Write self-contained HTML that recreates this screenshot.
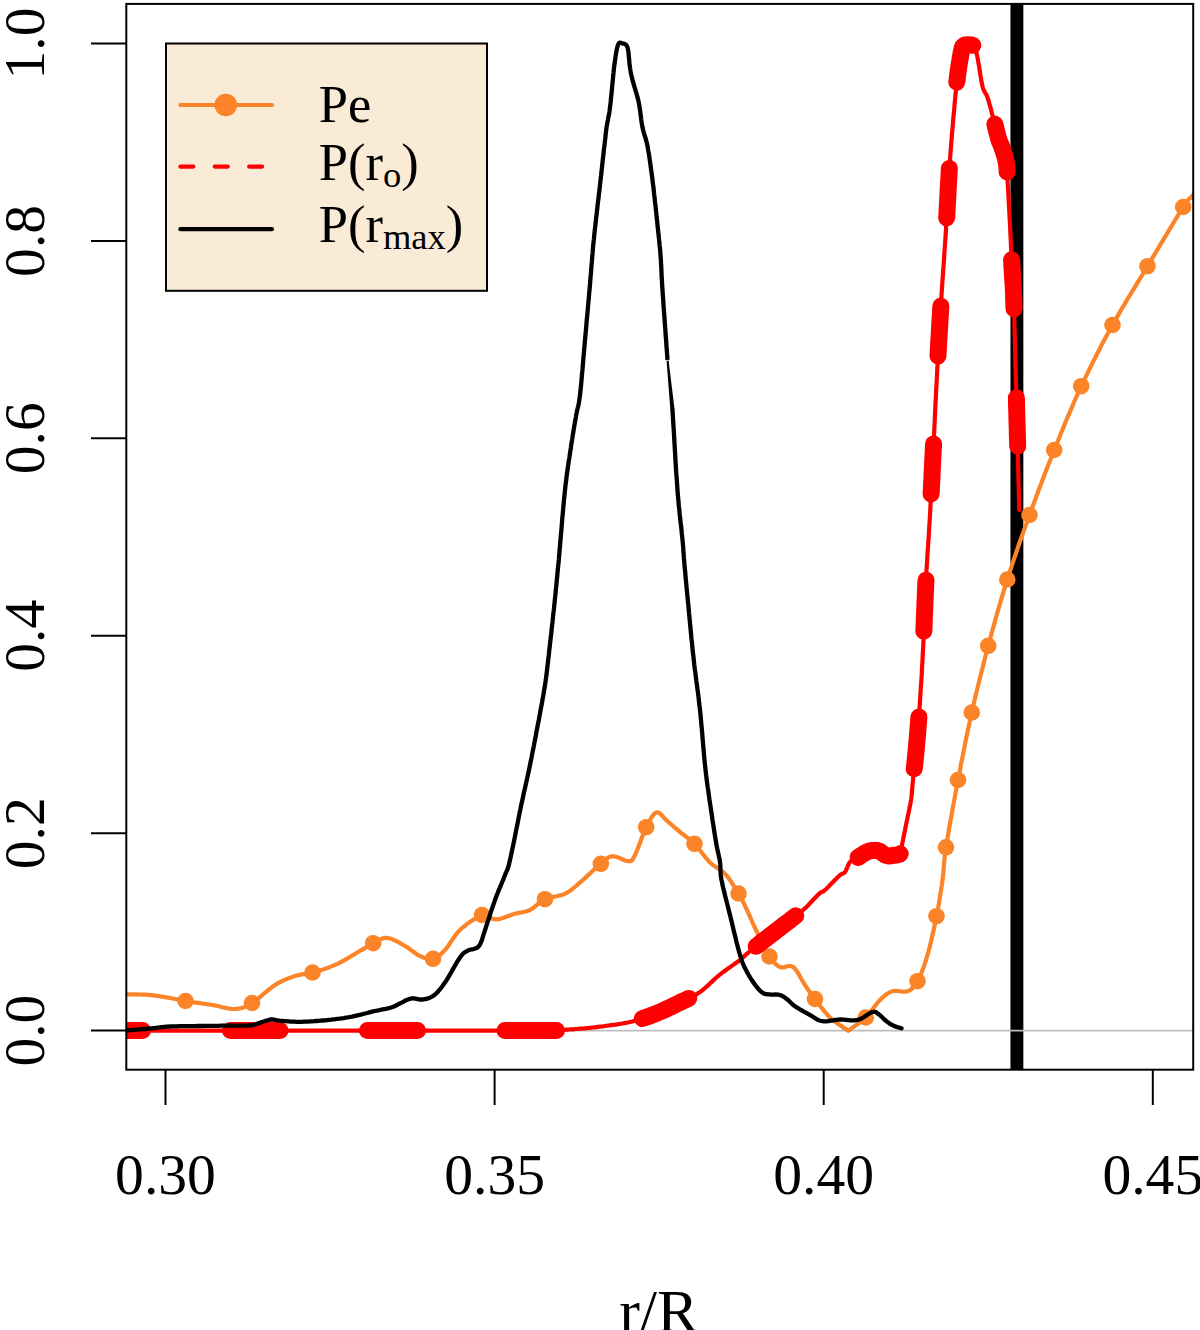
<!DOCTYPE html>
<html>
<head>
<meta charset="utf-8">
<title>P vs r/R</title>
<style>
html,body{margin:0;padding:0;background:#fff;}
body{width:1200px;height:1330px;overflow:hidden;}
svg{display:block;}
text{font-family:"Liberation Serif",serif;fill:#000;}
</style>
</head>
<body>
<svg width="1200" height="1330" viewBox="0 0 1200 1330">
<rect x="0" y="0" width="1200" height="1330" fill="#ffffff"/>
<defs>
<clipPath id="plot"><rect x="126.3" y="3.9" width="1066.9" height="1065.8"/></clipPath>
</defs>
<g clip-path="url(#plot)" fill="none" stroke-linejoin="round" stroke-linecap="round">
  <!-- vertical marker -->
  <line x1="1016.9" y1="0" x2="1016.9" y2="1075" stroke="#000" stroke-width="12.9" stroke-linecap="butt"/>
  <!-- zero line -->
  <line x1="120" y1="1030.6" x2="1200" y2="1030.6" stroke="#bebebe" stroke-width="1.8" stroke-linecap="butt"/>
  <!-- Pe -->
  <path d="M100.0 993.5 L102.2 993.6 L104.4 993.6 L106.6 993.7 L108.8 993.8 L111.1 993.8 L113.3 993.9 L115.5 993.9 L117.7 994.0 L119.9 994.1 L122.0 994.1 L124.2 994.2 L126.2 994.2 L128.3 994.3 L130.4 994.3 L132.5 994.4 L134.5 994.4 L136.5 994.4 L138.5 994.5 L140.5 994.5 L142.5 994.6 L144.4 994.7 L146.3 994.7 L148.2 994.9 L150.0 995.0 L151.8 995.2 L153.6 995.4 L155.4 995.6 L157.1 995.8 L158.8 996.1 L160.5 996.4 L162.2 996.6 L163.8 996.9 L165.4 997.2 L167.0 997.5 L168.5 997.7 L170.0 998.0 L171.4 998.2 L172.7 998.5 L173.9 998.7 L175.1 999.0 L176.2 999.2 L177.3 999.4 L178.5 999.7 L179.6 999.9 L180.9 1000.2 L182.3 1000.4 L183.8 1000.7 L185.5 1001.0 L187.4 1001.3 L189.4 1001.6 L191.5 1001.9 L193.8 1002.3 L196.2 1002.6 L198.6 1002.9 L201.0 1003.3 L203.4 1003.6 L205.8 1004.0 L208.1 1004.3 L210.4 1004.7 L212.5 1005.0 L214.6 1005.4 L216.6 1005.8 L218.6 1006.2 L220.5 1006.7 L222.5 1007.2 L224.4 1007.6 L226.2 1008.0 L228.1 1008.4 L229.9 1008.7 L231.6 1008.9 L233.3 1009.0 L235.0 1009.0 L236.6 1008.9 L238.1 1008.7 L239.5 1008.5 L240.9 1008.2 L242.2 1007.8 L243.5 1007.4 L244.8 1006.9 L246.1 1006.3 L247.5 1005.6 L248.9 1004.8 L250.4 1004.0 L252.0 1003.0 L253.7 1001.9 L255.5 1000.6 L257.4 999.1 L259.3 997.6 L261.3 995.9 L263.3 994.2 L265.3 992.5 L267.3 990.8 L269.3 989.1 L271.3 987.6 L273.2 986.2 L275.0 985.0 L276.8 983.9 L278.5 982.9 L280.3 982.0 L282.0 981.1 L283.7 980.3 L285.3 979.6 L287.0 978.9 L288.6 978.3 L290.2 977.7 L291.8 977.1 L293.4 976.5 L295.0 976.0 L296.5 975.5 L298.0 975.2 L299.4 974.9 L300.7 974.6 L302.1 974.4 L303.4 974.2 L304.8 974.1 L306.2 973.9 L307.7 973.6 L309.2 973.3 L310.8 973.0 L312.5 972.5 L314.3 972.0 L316.1 971.5 L318.0 971.0 L319.9 970.4 L321.8 969.8 L323.9 969.2 L325.9 968.5 L328.1 967.7 L330.3 966.9 L332.6 965.9 L335.0 964.9 L337.5 963.8 L340.2 962.4 L343.1 960.8 L346.2 959.1 L349.4 957.2 L352.7 955.3 L356.0 953.3 L359.3 951.3 L362.5 949.4 L365.6 947.6 L368.4 945.9 L371.0 944.5 L373.2 943.2 L375.2 942.2 L376.8 941.3 L378.2 940.6 L379.5 939.9 L380.5 939.3 L381.5 938.8 L382.4 938.5 L383.3 938.2 L384.2 938.0 L385.2 937.9 L386.3 937.9 L387.5 938.0 L388.9 938.2 L390.3 938.5 L391.7 939.0 L393.2 939.6 L394.7 940.3 L396.2 941.0 L397.7 941.9 L399.2 942.7 L400.7 943.5 L402.2 944.4 L403.6 945.2 L405.0 946.0 L406.3 946.8 L407.7 947.6 L409.0 948.5 L410.3 949.5 L411.5 950.4 L412.8 951.3 L414.0 952.2 L415.2 953.1 L416.4 954.0 L417.6 954.7 L418.8 955.4 L420.0 956.0 L421.2 956.5 L422.3 957.0 L423.4 957.5 L424.5 957.9 L425.6 958.2 L426.7 958.5 L427.8 958.8 L428.8 959.0 L429.9 959.0 L430.9 959.0 L432.0 958.9 L433.0 958.8 L434.0 958.5 L435.0 958.1 L436.0 957.6 L437.0 957.1 L437.9 956.5 L438.9 955.8 L439.8 955.0 L440.8 954.2 L441.8 953.2 L442.8 952.2 L443.9 951.2 L445.0 950.0 L446.1 948.7 L447.2 947.3 L448.4 945.7 L449.5 944.0 L450.7 942.2 L451.9 940.4 L453.1 938.5 L454.4 936.7 L455.7 934.9 L457.1 933.2 L458.5 931.5 L460.0 930.0 L461.6 928.5 L463.4 927.0 L465.3 925.5 L467.2 923.9 L469.3 922.4 L471.3 921.0 L473.3 919.7 L475.3 918.4 L477.1 917.3 L478.9 916.4 L480.5 915.6 L482.0 915.0 L483.3 914.7 L484.5 914.6 L485.5 914.7 L486.5 915.0 L487.3 915.4 L488.2 915.9 L488.9 916.5 L489.6 917.1 L490.4 917.6 L491.1 918.1 L491.8 918.5 L492.5 918.8 L493.2 918.9 L493.8 919.0 L494.4 919.1 L494.9 919.2 L495.5 919.3 L496.0 919.3 L496.5 919.3 L497.1 919.3 L497.7 919.2 L498.4 919.1 L499.1 918.9 L500.0 918.8 L501.0 918.5 L502.1 918.2 L503.2 917.8 L504.4 917.4 L505.7 917.0 L507.0 916.5 L508.4 916.0 L509.7 915.5 L511.1 915.0 L512.4 914.6 L513.7 914.1 L515.0 913.8 L516.2 913.4 L517.5 913.1 L518.8 912.9 L520.0 912.7 L521.2 912.5 L522.5 912.2 L523.8 912.0 L525.0 911.7 L526.2 911.4 L527.5 911.0 L528.8 910.6 L530.0 910.0 L531.2 909.3 L532.4 908.6 L533.6 907.7 L534.8 906.7 L536.0 905.8 L537.2 904.7 L538.4 903.7 L539.6 902.7 L540.9 901.7 L542.2 900.8 L543.6 900.0 L545.0 899.2 L546.5 898.6 L548.1 898.1 L549.8 897.6 L551.5 897.2 L553.2 896.9 L555.0 896.5 L556.8 896.2 L558.5 895.8 L560.2 895.4 L561.9 894.9 L563.5 894.4 L565.0 893.8 L566.4 893.0 L567.7 892.3 L569.0 891.5 L570.2 890.7 L571.3 889.8 L572.5 889.0 L573.6 888.0 L574.8 887.0 L576.0 886.0 L577.2 884.9 L578.6 883.7 L580.0 882.5 L581.6 881.2 L583.2 879.7 L585.0 878.1 L586.8 876.4 L588.7 874.6 L590.6 872.9 L592.5 871.1 L594.3 869.4 L596.1 867.8 L597.7 866.3 L599.3 864.9 L600.8 863.8 L602.0 862.7 L603.2 861.7 L604.2 860.8 L605.2 860.0 L606.1 859.2 L606.9 858.5 L607.7 857.9 L608.6 857.4 L609.5 857.0 L610.4 856.6 L611.4 856.4 L612.5 856.2 L613.7 856.3 L615.1 856.5 L616.5 856.9 L618.0 857.4 L619.5 858.0 L621.0 858.7 L622.5 859.3 L623.9 860.0 L625.3 860.5 L626.6 860.9 L627.7 861.2 L628.8 861.2 L629.6 861.2 L630.3 861.1 L630.9 861.0 L631.4 860.8 L631.8 860.5 L632.2 860.2 L632.5 859.7 L632.9 859.1 L633.3 858.3 L633.8 857.4 L634.3 856.3 L635.0 855.0 L635.8 853.4 L636.6 851.5 L637.5 849.3 L638.4 846.9 L639.4 844.3 L640.4 841.7 L641.4 839.0 L642.4 836.3 L643.4 833.8 L644.4 831.4 L645.3 829.2 L646.2 827.2 L647.1 825.5 L648.0 823.8 L648.9 822.1 L649.7 820.5 L650.6 819.0 L651.4 817.6 L652.2 816.3 L653.1 815.2 L653.9 814.2 L654.8 813.4 L655.6 812.9 L656.5 812.5 L657.4 812.4 L658.3 812.6 L659.2 813.0 L660.1 813.6 L661.0 814.4 L661.9 815.3 L662.8 816.3 L663.7 817.3 L664.6 818.4 L665.6 819.4 L666.5 820.4 L667.5 821.2 L668.5 822.1 L669.5 822.9 L670.5 823.8 L671.5 824.6 L672.5 825.5 L673.5 826.4 L674.6 827.3 L675.6 828.3 L676.7 829.2 L677.8 830.1 L678.9 831.1 L680.0 832.0 L681.1 832.9 L682.3 833.8 L683.5 834.7 L684.6 835.6 L685.8 836.5 L687.1 837.4 L688.3 838.3 L689.5 839.3 L690.8 840.3 L692.0 841.4 L693.3 842.5 L694.5 843.8 L695.8 845.1 L697.0 846.6 L698.3 848.1 L699.6 849.8 L700.9 851.4 L702.2 853.2 L703.5 854.9 L704.8 856.5 L706.1 858.2 L707.4 859.7 L708.7 861.2 L710.0 862.5 L711.3 863.7 L712.5 864.7 L713.8 865.6 L715.1 866.5 L716.4 867.3 L717.6 868.1 L718.9 868.8 L720.1 869.6 L721.4 870.5 L722.6 871.5 L723.8 872.5 L725.0 873.8 L726.2 875.1 L727.4 876.6 L728.6 878.2 L729.8 879.8 L731.0 881.5 L732.2 883.3 L733.3 885.1 L734.4 886.8 L735.5 888.6 L736.6 890.3 L737.6 891.9 L738.5 893.5 L739.4 895.0 L740.2 896.4 L741.0 897.8 L741.7 899.1 L742.4 900.4 L743.0 901.7 L743.7 903.0 L744.3 904.4 L745.0 905.7 L745.6 907.1 L746.3 908.5 L747.0 910.0 L747.7 911.5 L748.4 913.1 L749.1 914.6 L749.8 916.2 L750.5 917.8 L751.2 919.4 L751.9 921.0 L752.6 922.7 L753.4 924.5 L754.2 926.2 L755.1 928.1 L756.0 930.0 L757.0 932.0 L758.0 934.2 L759.1 936.5 L760.3 938.9 L761.5 941.4 L762.7 943.8 L763.9 946.3 L765.1 948.6 L766.2 950.8 L767.4 952.9 L768.5 954.8 L769.5 956.5 L770.5 958.0 L771.4 959.3 L772.3 960.5 L773.2 961.6 L774.1 962.6 L775.0 963.5 L775.8 964.3 L776.6 964.9 L777.5 965.6 L778.3 966.1 L779.2 966.6 L780.0 967.0 L780.9 967.3 L781.7 967.4 L782.6 967.4 L783.5 967.3 L784.4 967.1 L785.3 966.9 L786.1 966.6 L787.0 966.4 L787.8 966.2 L788.6 966.0 L789.3 965.9 L790.0 966.0 L790.6 966.1 L791.2 966.2 L791.7 966.4 L792.2 966.6 L792.6 966.8 L793.1 967.0 L793.5 967.3 L793.9 967.7 L794.4 968.1 L794.9 968.6 L795.4 969.3 L796.0 970.0 L796.6 970.9 L797.3 971.9 L798.0 973.0 L798.7 974.2 L799.5 975.5 L800.2 976.9 L801.0 978.3 L801.8 979.7 L802.6 981.1 L803.4 982.4 L804.2 983.8 L805.0 985.0 L805.8 986.2 L806.6 987.3 L807.3 988.5 L808.1 989.6 L808.8 990.7 L809.6 991.8 L810.4 992.9 L811.3 994.0 L812.1 995.2 L813.0 996.4 L814.0 997.7 L815.0 999.0 L816.1 1000.4 L817.2 1001.9 L818.3 1003.4 L819.5 1005.0 L820.7 1006.7 L822.0 1008.3 L823.3 1009.9 L824.6 1011.6 L825.9 1013.1 L827.3 1014.7 L828.6 1016.1 L830.0 1017.5 L831.4 1018.8 L832.9 1020.0 L834.3 1021.2 L835.9 1022.3 L837.4 1023.4 L838.9 1024.5 L840.5 1025.5 L842.1 1026.5 L843.6 1027.6 L845.2 1028.6 L846.8 1029.7 L848.3 1030.8 L849.8 1029.7 L851.2 1028.6 L852.7 1027.5 L854.2 1026.5 L855.7 1025.4 L857.2 1024.4 L858.7 1023.3 L860.2 1022.2 L861.6 1021.1 L863.0 1020.0 L864.4 1018.8 L865.8 1017.5 L867.1 1016.2 L868.3 1014.7 L869.6 1013.2 L870.8 1011.7 L872.0 1010.1 L873.2 1008.5 L874.3 1006.9 L875.5 1005.3 L876.6 1003.9 L877.8 1002.5 L878.9 1001.2 L880.0 1000.0 L881.1 998.9 L882.2 997.9 L883.2 997.0 L884.2 996.1 L885.2 995.3 L886.2 994.5 L887.2 993.8 L888.2 993.2 L889.2 992.6 L890.3 992.1 L891.4 991.6 L892.5 991.2 L893.7 991.0 L894.9 990.9 L896.2 990.9 L897.5 991.0 L898.8 991.1 L900.2 991.3 L901.5 991.5 L902.8 991.7 L904.0 991.7 L905.3 991.7 L906.4 991.6 L907.5 991.2 L908.5 990.8 L909.5 990.4 L910.4 989.8 L911.2 989.3 L912.0 988.6 L912.8 987.9 L913.6 987.1 L914.4 986.2 L915.1 985.1 L915.9 984.0 L916.7 982.7 L917.5 981.2 L918.3 979.7 L919.2 978.0 L920.0 976.1 L920.9 974.2 L921.7 972.1 L922.6 969.9 L923.4 967.7 L924.2 965.3 L925.1 962.8 L925.9 960.3 L926.7 957.7 L927.5 955.0 L928.3 952.2 L929.1 949.2 L929.9 946.1 L930.7 942.9 L931.5 939.6 L932.2 936.2 L933.0 932.8 L933.8 929.4 L934.5 926.0 L935.2 922.7 L935.9 919.4 L936.5 916.2 L937.1 913.1 L937.7 910.0 L938.3 906.9 L938.8 903.8 L939.3 900.8 L939.8 897.7 L940.3 894.7 L940.8 891.7 L941.2 888.7 L941.7 885.8 L942.1 882.9 L942.5 880.0 L942.9 877.3 L943.1 874.7 L943.4 872.4 L943.5 870.1 L943.7 867.9 L943.9 865.6 L944.1 863.2 L944.3 860.6 L944.6 857.8 L945.0 854.7 L945.4 851.2 L946.0 847.3 L946.7 842.9 L947.5 838.1 L948.4 832.9 L949.3 827.4 L950.3 821.7 L951.4 815.8 L952.4 809.8 L953.6 803.7 L954.7 797.6 L955.8 791.6 L956.9 785.7 L958.0 780.0 L959.1 774.4 L960.2 768.8 L961.2 763.1 L962.4 757.5 L963.5 751.9 L964.6 746.2 L965.7 740.6 L966.9 735.0 L968.1 729.3 L969.3 723.7 L970.5 718.1 L971.8 712.5 L973.0 706.9 L974.3 701.3 L975.6 695.7 L977.0 690.2 L978.3 684.6 L979.7 679.0 L981.1 673.5 L982.5 667.9 L983.9 662.4 L985.3 656.8 L986.8 651.3 L988.2 645.8 L989.7 640.2 L991.2 634.7 L992.8 629.1 L994.3 623.6 L995.8 618.0 L997.4 612.5 L999.0 607.0 L1000.6 601.4 L1002.3 595.9 L1003.9 590.4 L1005.6 585.0 L1007.3 579.5 L1009.0 574.1 L1010.8 568.7 L1012.6 563.3 L1014.4 557.9 L1016.2 552.5 L1018.0 547.2 L1019.9 541.8 L1021.8 536.5 L1023.7 531.1 L1025.6 525.8 L1027.6 520.4 L1029.5 515.0 L1031.5 509.6 L1033.5 504.2 L1035.5 498.8 L1037.5 493.3 L1039.5 487.9 L1041.6 482.5 L1043.6 477.0 L1045.7 471.6 L1047.8 466.2 L1050.0 460.8 L1052.1 455.4 L1054.2 450.0 L1056.4 444.6 L1058.6 439.3 L1060.7 433.9 L1062.9 428.6 L1065.1 423.2 L1067.3 417.9 L1069.6 412.6 L1071.9 407.3 L1074.1 402.0 L1076.5 396.7 L1078.8 391.5 L1081.2 386.2 L1083.7 381.1 L1086.2 375.9 L1088.7 370.7 L1091.2 365.6 L1093.8 360.4 L1096.4 355.3 L1099.0 350.2 L1101.6 345.1 L1104.3 340.1 L1107.0 335.0 L1109.8 330.0 L1112.5 325.0 L1115.3 320.0 L1118.1 315.1 L1121.0 310.1 L1123.9 305.2 L1126.8 300.4 L1129.7 295.5 L1132.7 290.6 L1135.6 285.8 L1138.6 280.9 L1141.6 276.0 L1144.5 271.2 L1147.5 266.2 L1150.5 261.2 L1153.7 255.9 L1157.0 250.4 L1160.3 244.8 L1163.7 239.2 L1167.0 233.7 L1170.2 228.4 L1173.2 223.3 L1176.1 218.5 L1178.8 214.1 L1181.2 210.3 L1183.2 207.0 L1184.9 204.4 L1186.3 202.4 L1187.3 200.9 L1188.2 199.9 L1188.8 199.2 L1189.3 198.7 L1189.7 198.4 L1190.2 198.1 L1190.7 197.7 L1191.3 197.1 L1192.0 196.2 L1193.0 195.0 L1194.2 193.5 L1195.4 191.8 L1196.7 190.0 L1198.1 188.1 L1199.6 186.2 L1201.0 184.2 L1202.5 182.1 L1204.1 180.1 L1205.6 178.0 L1207.1 176.0 L1208.6 174.0 L1210.0 172.0" stroke="#fb8429" stroke-width="4.2"/>
  <g fill="#fb8429" stroke="none"><circle cx="185.5" cy="1001.0" r="8.3"/><circle cx="252.0" cy="1003.0" r="8.3"/><circle cx="312.5" cy="972.5" r="8.3"/><circle cx="373.2" cy="943.2" r="8.3"/><circle cx="433.0" cy="958.8" r="8.3"/><circle cx="482.0" cy="915.0" r="8.3"/><circle cx="545.0" cy="899.2" r="8.3"/><circle cx="600.8" cy="863.8" r="8.3"/><circle cx="646.2" cy="827.2" r="8.3"/><circle cx="694.5" cy="843.8" r="8.3"/><circle cx="738.5" cy="893.5" r="8.3"/><circle cx="769.5" cy="956.5" r="8.3"/><circle cx="815.0" cy="999.0" r="8.3"/><circle cx="865.8" cy="1017.5" r="8.3"/><circle cx="917.5" cy="981.2" r="8.3"/><circle cx="936.5" cy="916.2" r="8.3"/><circle cx="946.0" cy="847.3" r="8.3"/><circle cx="958.0" cy="780.0" r="8.3"/><circle cx="971.8" cy="712.5" r="8.3"/><circle cx="988.2" cy="645.8" r="8.3"/><circle cx="1007.3" cy="579.5" r="8.3"/><circle cx="1029.5" cy="515.0" r="8.3"/><circle cx="1054.2" cy="450.0" r="8.3"/><circle cx="1081.2" cy="386.2" r="8.3"/><circle cx="1112.5" cy="325.0" r="8.3"/><circle cx="1147.5" cy="266.2" r="8.3"/><circle cx="1183.2" cy="207.0" r="8.3"/></g>
  <!-- P(ro) -->
  <path d="M90.0 1030.6 L107.5 1030.6 L124.9 1030.6 L142.3 1030.6 L159.6 1030.6 L177.0 1030.6 L194.4 1030.6 L211.8 1030.6 L229.3 1030.6 L246.8 1030.6 L264.4 1030.6 L282.1 1030.6 L300.0 1030.6 L318.6 1030.6 L338.2 1030.6 L358.6 1030.6 L379.4 1030.6 L400.3 1030.6 L420.9 1030.6 L440.9 1030.6 L460.0 1030.6 L477.8 1030.6 L493.9 1030.6 L508.1 1030.6 L520.0 1030.6 L529.5 1030.6 L536.8 1030.6 L542.3 1030.6 L546.3 1030.6 L549.0 1030.6 L550.6 1030.6 L551.6 1030.7 L552.0 1030.7 L552.3 1030.7 L552.8 1030.6 L553.5 1030.6 L555.0 1030.6 L556.7 1030.6 L558.0 1030.5 L559.0 1030.5 L559.8 1030.4 L560.4 1030.4 L560.9 1030.3 L561.4 1030.2 L561.9 1030.1 L562.4 1030.1 L563.0 1030.0 L563.9 1029.9 L565.0 1029.8 L566.3 1029.7 L567.8 1029.6 L569.3 1029.5 L570.9 1029.4 L572.6 1029.3 L574.4 1029.1 L576.2 1029.0 L578.0 1028.9 L579.8 1028.7 L581.6 1028.6 L583.3 1028.5 L585.0 1028.3 L586.7 1028.1 L588.3 1028.0 L589.9 1027.8 L591.5 1027.7 L593.1 1027.5 L594.7 1027.3 L596.3 1027.1 L598.0 1026.9 L599.6 1026.7 L601.4 1026.5 L603.2 1026.3 L605.0 1026.0 L606.9 1025.7 L608.9 1025.5 L610.9 1025.2 L613.0 1024.9 L615.1 1024.7 L617.2 1024.4 L619.3 1024.0 L621.5 1023.7 L623.6 1023.3 L625.8 1022.9 L627.9 1022.5 L630.0 1022.0 L632.1 1021.5 L634.2 1020.9 L636.2 1020.4 L638.3 1019.8 L640.4 1019.1 L642.5 1018.5 L644.6 1017.8 L646.7 1017.1 L648.8 1016.3 L650.8 1015.6 L652.9 1014.8 L655.0 1014.0 L657.1 1013.2 L659.2 1012.3 L661.4 1011.3 L663.5 1010.4 L665.7 1009.4 L667.8 1008.4 L669.9 1007.4 L672.0 1006.4 L674.1 1005.4 L676.1 1004.4 L678.1 1003.4 L680.0 1002.5 L681.8 1001.6 L683.6 1000.8 L685.4 1000.0 L687.0 999.2 L688.7 998.4 L690.3 997.6 L691.9 996.8 L693.5 996.0 L695.1 995.1 L696.7 994.1 L698.3 993.1 L700.0 992.0 L701.7 990.8 L703.3 989.5 L705.0 988.0 L706.7 986.6 L708.3 985.1 L710.0 983.5 L711.7 981.9 L713.3 980.4 L715.0 978.8 L716.7 977.3 L718.3 975.9 L720.0 974.5 L721.7 973.2 L723.5 971.8 L725.3 970.5 L727.1 969.2 L728.9 967.9 L730.7 966.7 L732.4 965.4 L734.1 964.2 L735.8 963.1 L737.3 962.0 L738.7 961.0 L740.0 960.0 L741.1 959.1 L741.9 958.4 L742.6 957.8 L743.1 957.3 L743.6 956.9 L744.1 956.4 L744.5 955.9 L745.1 955.4 L745.7 954.8 L746.6 954.0 L747.7 953.1 L749.0 952.0 L750.6 950.7 L752.5 949.3 L754.5 947.7 L756.7 946.0 L759.0 944.2 L761.4 942.3 L763.8 940.4 L766.3 938.5 L768.8 936.6 L771.3 934.7 L773.7 932.8 L776.0 931.0 L778.3 929.2 L780.7 927.4 L783.1 925.5 L785.6 923.6 L788.1 921.7 L790.6 919.8 L793.0 918.0 L795.3 916.2 L797.4 914.5 L799.5 912.9 L801.3 911.4 L803.0 910.0 L804.4 908.8 L805.7 907.7 L806.8 906.7 L807.7 905.7 L808.5 904.9 L809.2 904.1 L809.9 903.4 L810.5 902.7 L811.1 902.0 L811.7 901.4 L812.3 900.7 L813.0 900.0 L813.7 899.3 L814.4 898.6 L815.0 897.9 L815.6 897.3 L816.2 896.7 L816.8 896.1 L817.4 895.5 L817.9 894.9 L818.5 894.4 L819.0 893.9 L819.5 893.4 L820.0 893.0 L820.5 892.6 L820.8 892.4 L821.2 892.2 L821.5 892.1 L821.8 892.0 L822.1 891.9 L822.4 891.8 L822.7 891.7 L823.2 891.4 L823.7 891.1 L824.3 890.6 L825.0 890.0 L825.9 889.2 L826.9 888.2 L828.1 887.0 L829.3 885.8 L830.6 884.4 L831.9 883.1 L833.3 881.7 L834.6 880.3 L835.9 879.1 L837.0 877.9 L838.1 876.9 L839.0 876.0 L839.8 875.3 L840.5 874.8 L841.1 874.4 L841.6 874.1 L842.1 873.9 L842.6 873.8 L843.0 873.6 L843.4 873.4 L843.8 873.2 L844.2 872.9 L844.6 872.5 L845.0 872.0 L845.4 871.4 L845.9 870.6 L846.2 869.8 L846.6 868.9 L847.0 868.0 L847.4 867.0 L847.8 866.1 L848.1 865.1 L848.6 864.3 L849.0 863.4 L849.5 862.7 L850.0 862.0 L850.6 861.4 L851.1 860.9 L851.7 860.5 L852.4 860.1 L853.0 859.8 L853.7 859.5 L854.4 859.2 L855.1 858.9 L855.8 858.6 L856.5 858.3 L857.3 857.9 L858.0 857.5 L858.8 857.0 L859.6 856.5 L860.4 856.0 L861.2 855.4 L862.0 854.8 L862.9 854.3 L863.7 853.7 L864.6 853.2 L865.5 852.7 L866.3 852.2 L867.2 851.8 L868.0 851.5 L868.8 851.2 L869.7 851.0 L870.5 850.8 L871.4 850.6 L872.3 850.5 L873.1 850.4 L874.0 850.4 L874.8 850.4 L875.6 850.4 L876.4 850.4 L877.2 850.6 L878.0 850.7 L878.7 850.9 L879.5 851.2 L880.2 851.6 L880.9 852.1 L881.6 852.5 L882.2 853.1 L882.9 853.6 L883.6 854.0 L884.2 854.5 L884.8 854.9 L885.4 855.3 L886.0 855.5 L886.6 855.7 L887.1 855.8 L887.6 855.9 L888.1 855.9 L888.5 855.9 L889.0 855.9 L889.4 855.9 L889.9 855.8 L890.4 855.8 L890.9 855.7 L891.4 855.6 L892.0 855.5 L892.6 855.4 L893.4 855.4 L894.1 855.3 L894.9 855.2 L895.7 855.1 L896.5 855.0 L897.3 854.9 L898.1 854.7 L898.8 854.5 L899.5 854.2 L900.0 853.9 L900.5 853.5 L900.9 853.1 L901.1 852.6 L901.3 852.1 L901.4 851.6 L901.5 851.0 L901.5 850.4 L901.6 849.7 L901.6 848.9 L901.6 848.1 L901.7 847.2 L901.8 846.1 L902.0 845.0 L902.2 843.8 L902.5 842.4 L902.8 840.9 L903.1 839.4 L903.4 837.7 L903.8 836.0 L904.1 834.3 L904.5 832.5 L904.9 830.6 L905.2 828.8 L905.6 826.9 L906.0 825.0 L906.4 823.1 L906.8 821.0 L907.3 818.9 L907.7 816.7 L908.2 814.4 L908.7 812.2 L909.1 810.0 L909.6 807.8 L910.0 805.7 L910.4 803.6 L910.7 801.7 L911.0 800.0 L911.2 798.5 L911.4 797.3 L911.5 796.4 L911.6 795.6 L911.7 794.8 L911.8 794.1 L911.8 793.2 L911.9 792.2 L912.0 791.0 L912.1 789.4 L912.3 787.4 L912.5 785.0 L912.8 782.1 L913.1 779.0 L913.5 775.5 L913.9 771.9 L914.3 767.9 L914.8 763.8 L915.2 759.4 L915.7 754.8 L916.2 750.1 L916.6 745.2 L917.1 740.2 L917.5 735.0 L917.9 729.6 L918.4 724.0 L918.8 718.1 L919.2 712.0 L919.7 705.8 L920.1 699.4 L920.5 692.9 L920.9 686.3 L921.4 679.7 L921.8 673.1 L922.1 666.5 L922.5 660.0 L922.8 653.5 L923.2 646.8 L923.5 640.0 L923.8 633.1 L924.0 626.3 L924.3 619.4 L924.6 612.5 L924.9 605.7 L925.1 599.1 L925.4 592.5 L925.7 586.2 L926.0 580.0 L926.3 574.1 L926.6 568.4 L927.0 562.9 L927.3 557.6 L927.6 552.4 L928.0 547.2 L928.3 542.0 L928.7 536.9 L929.0 531.6 L929.3 526.2 L929.7 520.7 L930.0 515.0 L930.3 509.1 L930.6 503.1 L931.0 497.0 L931.3 490.7 L931.6 484.5 L931.9 478.1 L932.2 471.8 L932.5 465.4 L932.8 459.0 L933.1 452.6 L933.4 446.3 L933.8 440.0 L934.1 433.7 L934.4 427.4 L934.7 421.0 L935.0 414.6 L935.3 408.2 L935.6 401.9 L935.9 395.5 L936.2 389.3 L936.6 383.0 L936.9 376.9 L937.2 370.9 L937.5 365.0 L937.8 359.3 L938.1 353.7 L938.4 348.3 L938.7 343.0 L939.0 337.7 L939.3 332.5 L939.6 327.3 L939.9 322.0 L940.2 316.7 L940.6 311.3 L940.9 305.7 L941.2 300.0 L941.6 294.1 L942.0 288.0 L942.4 281.7 L942.9 275.4 L943.3 269.0 L943.8 262.5 L944.2 256.0 L944.6 249.6 L945.1 243.3 L945.5 237.0 L945.9 230.9 L946.2 225.0 L946.6 219.3 L946.9 213.7 L947.2 208.2 L947.5 202.9 L947.8 197.6 L948.0 192.3 L948.3 187.1 L948.6 181.9 L948.9 176.5 L949.2 171.2 L949.6 165.6 L950.0 160.0 L950.4 154.1 L950.9 147.9 L951.4 141.5 L951.9 135.0 L952.5 128.4 L953.0 121.9 L953.6 115.5 L954.2 109.2 L954.7 103.2 L955.2 97.5 L955.8 92.3 L956.2 87.5 L956.7 83.2 L957.2 79.1 L957.7 75.3 L958.1 71.9 L958.6 68.6 L959.0 65.6 L959.4 62.9 L959.8 60.3 L960.2 58.0 L960.6 55.8 L961.0 53.8 L961.3 52.0 L961.6 50.4 L961.9 49.2 L962.1 48.2 L962.3 47.5 L962.5 46.9 L962.7 46.6 L962.8 46.3 L963.0 46.2 L963.2 46.0 L963.4 45.9 L963.7 45.7 L964.0 45.5 L964.3 45.2 L964.7 45.0 L965.1 44.9 L965.5 44.7 L965.9 44.7 L966.4 44.6 L966.8 44.6 L967.2 44.6 L967.7 44.7 L968.1 44.7 L968.6 44.8 L969.0 44.8 L969.4 44.8 L969.9 44.8 L970.3 44.8 L970.7 44.8 L971.2 44.9 L971.6 44.9 L972.0 45.0 L972.4 45.2 L972.9 45.4 L973.3 45.7 L973.6 46.0 L974.0 46.5 L974.3 47.0 L974.7 47.6 L974.9 48.2 L975.2 48.8 L975.5 49.5 L975.8 50.3 L976.0 51.2 L976.3 52.2 L976.6 53.3 L976.8 54.5 L977.2 55.9 L977.5 57.5 L977.9 59.3 L978.2 61.5 L978.6 63.8 L979.1 66.4 L979.5 69.1 L979.9 71.9 L980.3 74.6 L980.8 77.3 L981.2 79.9 L981.6 82.3 L982.1 84.4 L982.5 86.2 L982.9 87.8 L983.3 89.0 L983.7 90.0 L984.1 90.9 L984.5 91.6 L984.9 92.3 L985.3 92.9 L985.7 93.6 L986.2 94.3 L986.6 95.2 L987.0 96.2 L987.5 97.5 L988.0 99.0 L988.5 100.6 L989.0 102.4 L989.5 104.3 L990.1 106.2 L990.6 108.2 L991.2 110.2 L991.7 112.3 L992.2 114.3 L992.8 116.3 L993.3 118.2 L993.8 120.0 L994.2 121.8 L994.7 123.6 L995.2 125.5 L995.7 127.4 L996.1 129.2 L996.6 131.0 L997.1 132.8 L997.5 134.5 L997.9 136.0 L998.3 137.5 L998.7 138.8 L999.0 140.0 L999.3 141.0 L999.5 141.7 L999.8 142.2 L1000.0 142.6 L1000.1 143.0 L1000.3 143.2 L1000.4 143.5 L1000.6 143.7 L1000.8 144.1 L1001.0 144.6 L1001.2 145.2 L1001.5 146.0 L1001.8 147.0 L1002.2 148.1 L1002.6 149.4 L1003.0 150.7 L1003.5 152.1 L1004.0 153.5 L1004.4 155.0 L1004.8 156.5 L1005.3 158.1 L1005.6 159.6 L1006.0 161.1 L1006.2 162.5 L1006.5 163.8 L1006.6 165.0 L1006.8 166.2 L1006.9 167.2 L1007.0 168.3 L1007.0 169.5 L1007.1 170.7 L1007.1 172.1 L1007.2 173.7 L1007.3 175.5 L1007.4 177.6 L1007.5 180.0 L1007.7 182.8 L1007.9 186.0 L1008.1 189.5 L1008.3 193.2 L1008.5 197.2 L1008.7 201.2 L1008.9 205.4 L1009.2 209.5 L1009.4 213.6 L1009.6 217.6 L1009.8 221.4 L1010.0 225.0 L1010.2 228.4 L1010.3 231.7 L1010.5 234.9 L1010.6 238.1 L1010.8 241.2 L1010.9 244.2 L1011.0 247.3 L1011.2 250.3 L1011.3 253.3 L1011.5 256.3 L1011.6 259.4 L1011.8 262.5 L1011.9 265.5 L1012.1 268.4 L1012.2 271.2 L1012.4 274.0 L1012.6 276.7 L1012.8 279.5 L1012.9 282.4 L1013.1 285.5 L1013.3 288.7 L1013.4 292.2 L1013.6 295.9 L1013.8 300.0 L1013.9 304.4 L1014.1 309.1 L1014.2 314.1 L1014.3 319.3 L1014.5 324.6 L1014.6 330.2 L1014.8 335.8 L1014.9 341.6 L1015.1 347.4 L1015.2 353.3 L1015.3 359.1 L1015.5 365.0 L1015.7 370.9 L1015.8 377.0 L1016.0 383.2 L1016.2 389.4 L1016.3 395.8 L1016.5 402.2 L1016.7 408.6 L1016.8 415.0 L1017.0 421.4 L1017.2 427.7 L1017.3 433.9 L1017.5 440.0 L1017.7 446.0 L1017.8 452.0 L1018.0 457.9 L1018.1 463.7 L1018.2 469.5 L1018.4 475.3 L1018.5 481.1 L1018.7 486.9 L1018.8 492.6 L1019.0 498.4 L1019.1 504.2 L1019.2 510.0" stroke="#ff0000" stroke-width="4.2"/>
  <path d="M90.0 1030.6 L93.0 1030.6 L96.0 1030.6 L99.0 1030.6 L102.0 1030.6 L105.0 1030.6 L108.0 1030.6 L111.0 1030.6 L114.0 1030.6 L117.0 1030.6 L120.0 1030.6 L123.0 1030.6 L126.0 1030.6 L129.0 1030.6 L132.0 1030.6 L135.0 1030.6 L138.0 1030.6 L141.0 1030.6 L142.5 1030.6 M230.5 1030.6 L233.5 1030.6 L236.5 1030.6 L239.5 1030.6 L242.5 1030.6 L245.5 1030.6 L248.5 1030.6 L251.5 1030.6 L254.5 1030.6 L257.5 1030.6 L260.5 1030.6 L263.5 1030.6 L266.5 1030.6 L269.5 1030.6 L272.5 1030.6 L275.5 1030.6 L278.5 1030.6 L280.0 1030.6 M367.5 1030.6 L370.5 1030.6 L373.5 1030.6 L376.5 1030.6 L379.5 1030.6 L382.5 1030.6 L385.5 1030.6 L388.5 1030.6 L391.5 1030.6 L394.5 1030.6 L397.5 1030.6 L400.5 1030.6 L403.5 1030.6 L406.5 1030.6 L409.5 1030.6 L412.5 1030.6 L415.5 1030.6 L417.5 1030.6 M505.0 1030.6 L508.0 1030.6 L511.0 1030.6 L514.0 1030.6 L517.0 1030.6 L520.0 1030.6 L523.0 1030.6 L526.0 1030.6 L529.0 1030.6 L532.0 1030.6 L535.0 1030.6 L538.0 1030.6 L541.0 1030.6 L544.0 1030.6 L547.0 1030.6 L550.0 1030.6 L553.0 1030.6 L556.0 1030.6 L556.5 1030.6 M642.4 1018.5 L645.3 1017.5 L648.1 1016.6 L650.9 1015.5 L653.8 1014.5 L656.5 1013.4 L659.3 1012.2 L662.1 1011.0 L664.8 1009.8 L667.5 1008.5 L670.2 1007.3 L672.9 1006.0 L675.6 1004.6 L678.3 1003.3 L681.0 1002.0 L683.7 1000.7 L686.5 999.5 L688.7 998.4 M756.2 946.3 L758.6 944.5 L760.9 942.6 L763.3 940.8 L765.7 939.0 L768.1 937.1 L770.4 935.3 L772.8 933.5 L775.2 931.6 L777.6 929.8 L779.9 928.0 L782.3 926.1 L784.7 924.3 L787.1 922.5 L789.5 920.7 L791.8 918.8 L794.2 917.0 L795.8 915.8 M858.2 857.4 L860.7 855.7 L863.2 854.1 L865.8 852.5 L868.5 851.3 L871.4 850.6 L874.4 850.4 L877.4 850.6 L880.2 851.6 L882.7 853.4 L885.1 855.1 L888.0 855.9 L890.9 855.7 L893.9 855.3 L896.9 855.0 L899.7 854.1 L900.2 853.8 M914.2 768.8 L914.6 765.8 L914.9 762.8 L915.2 759.8 L915.5 756.9 L915.8 753.9 L916.1 750.9 L916.4 747.9 L916.6 744.9 L916.9 741.9 L917.2 738.9 L917.4 736.0 L917.7 733.0 L917.9 730.0 L918.1 727.0 L918.4 724.0 L918.6 721.0 L918.8 718.0 L918.9 717.0 M923.8 631.2 L924.0 628.2 L924.1 625.2 L924.2 622.2 L924.3 619.2 L924.4 616.2 L924.6 613.2 L924.7 610.2 L924.8 607.2 L924.9 604.2 L925.0 601.2 L925.2 598.2 L925.3 595.2 L925.4 592.2 L925.6 589.2 L925.7 586.2 L925.8 583.2 L926.0 580.2 L926.0 580.2 M931.1 493.9 L931.3 490.9 L931.4 487.9 L931.6 484.9 L931.7 481.9 L931.9 478.9 L932.0 475.9 L932.1 472.9 L932.3 469.9 L932.4 466.9 L932.6 463.9 L932.7 460.9 L932.9 457.9 L933.0 454.9 L933.2 451.9 L933.3 448.9 L933.5 445.9 L933.6 443.9 M938.0 356.0 L938.1 353.0 L938.3 350.0 L938.5 347.0 L938.6 344.0 L938.8 341.0 L939.0 338.1 L939.2 335.1 L939.3 332.1 L939.5 329.1 L939.7 326.1 L939.8 323.1 L940.0 320.1 L940.2 317.1 L940.4 314.1 L940.6 311.1 L940.7 308.1 L940.9 306.1 M946.7 217.8 L946.9 214.8 L947.0 211.8 L947.2 208.8 L947.3 205.8 L947.5 202.8 L947.7 199.8 L947.8 196.8 L948.0 193.8 L948.1 190.8 L948.3 187.8 L948.4 184.8 L948.6 181.9 L948.8 178.9 L949.0 175.9 L949.1 172.9 L949.3 169.9 L949.4 168.4 M956.8 82.2 L957.2 79.2 L957.5 76.2 L957.9 73.3 L958.3 70.3 L958.7 67.3 L959.2 64.4 L959.7 61.4 L960.2 58.4 L960.7 55.5 L961.2 52.5 L961.8 49.6 L962.6 46.7 L964.9 44.9 L967.9 44.7 L970.9 44.9 L972.8 45.3 M994.9 124.2 L995.6 127.1 L996.3 130.0 L997.1 132.9 L997.8 135.8 L998.6 138.7 L999.5 141.6 L1000.8 144.2 L1001.8 147.1 L1002.8 149.9 L1003.7 152.8 L1004.6 155.6 L1005.4 158.5 L1006.0 161.4 L1006.6 164.4 L1006.9 167.4 L1007.1 170.4 L1007.1 171.9 M1011.6 259.8 L1011.8 262.8 L1011.9 265.8 L1012.1 268.7 L1012.3 271.7 L1012.5 274.7 L1012.6 277.7 L1012.8 280.7 L1013.0 283.7 L1013.2 286.7 L1013.3 289.7 L1013.5 292.7 L1013.6 295.7 L1013.7 298.7 L1013.8 301.7 L1013.9 304.7 L1014.0 307.7 L1014.0 308.7 M1016.4 397.7 L1016.5 400.7 L1016.5 403.7 L1016.6 406.7 L1016.7 409.7 L1016.8 412.7 L1016.9 415.7 L1016.9 418.7 L1017.0 421.7 L1017.1 424.7 L1017.2 427.7 L1017.3 430.7 L1017.3 433.7 L1017.4 436.7 L1017.5 439.7 L1017.6 442.7 L1017.6 445.7 L1017.7 446.2" stroke="#ff0000" stroke-width="17"/>
  <!-- P(rmax) -->
  <path d="M100.0 1032.0 L102.2 1031.9 L104.4 1031.8 L106.5 1031.6 L108.7 1031.5 L110.9 1031.4 L113.1 1031.3 L115.3 1031.2 L117.5 1031.0 L119.6 1030.9 L121.8 1030.8 L123.9 1030.6 L126.0 1030.5 L128.1 1030.4 L130.2 1030.2 L132.2 1030.0 L134.3 1029.9 L136.3 1029.7 L138.4 1029.5 L140.4 1029.4 L142.4 1029.2 L144.3 1029.0 L146.3 1028.8 L148.1 1028.7 L150.0 1028.5 L151.8 1028.3 L153.4 1028.1 L155.0 1028.0 L156.6 1027.8 L158.1 1027.6 L159.6 1027.4 L161.2 1027.2 L162.7 1027.1 L164.4 1026.9 L166.1 1026.7 L168.0 1026.6 L170.0 1026.5 L172.2 1026.4 L174.5 1026.3 L176.9 1026.3 L179.4 1026.2 L182.0 1026.2 L184.7 1026.1 L187.3 1026.1 L190.0 1026.1 L192.6 1026.1 L195.2 1026.1 L197.6 1026.0 L200.0 1026.0 L202.3 1026.0 L204.5 1025.9 L206.6 1025.9 L208.7 1025.9 L210.8 1025.9 L212.8 1025.8 L214.8 1025.8 L216.9 1025.8 L218.9 1025.8 L220.9 1025.7 L222.9 1025.7 L225.0 1025.7 L227.1 1025.7 L229.3 1025.7 L231.6 1025.7 L233.9 1025.7 L236.2 1025.7 L238.4 1025.7 L240.6 1025.7 L242.8 1025.7 L244.8 1025.6 L246.7 1025.6 L248.4 1025.5 L250.0 1025.4 L251.4 1025.3 L252.5 1025.1 L253.5 1024.9 L254.4 1024.7 L255.2 1024.5 L255.9 1024.2 L256.5 1024.0 L257.1 1023.7 L257.8 1023.5 L258.4 1023.2 L259.2 1023.0 L260.0 1022.7 L260.9 1022.4 L261.8 1022.1 L262.7 1021.8 L263.7 1021.5 L264.6 1021.2 L265.6 1020.9 L266.5 1020.5 L267.4 1020.3 L268.4 1020.0 L269.3 1019.8 L270.2 1019.6 L271.0 1019.5 L271.8 1019.4 L272.5 1019.5 L273.1 1019.5 L273.7 1019.6 L274.3 1019.7 L274.9 1019.9 L275.6 1020.0 L276.3 1020.2 L277.0 1020.3 L277.9 1020.5 L278.9 1020.6 L280.0 1020.8 L281.3 1020.9 L282.6 1021.0 L284.1 1021.1 L285.7 1021.2 L287.3 1021.3 L289.0 1021.4 L290.8 1021.6 L292.6 1021.6 L294.4 1021.7 L296.2 1021.8 L298.1 1021.8 L300.0 1021.8 L301.9 1021.8 L303.9 1021.7 L305.9 1021.6 L308.0 1021.6 L310.1 1021.4 L312.2 1021.3 L314.3 1021.2 L316.5 1021.0 L318.6 1020.9 L320.8 1020.7 L322.9 1020.5 L325.0 1020.3 L327.1 1020.1 L329.2 1019.9 L331.2 1019.7 L333.3 1019.4 L335.4 1019.2 L337.5 1018.9 L339.6 1018.7 L341.7 1018.4 L343.8 1018.1 L345.8 1017.7 L347.9 1017.4 L350.0 1017.0 L352.1 1016.6 L354.3 1016.1 L356.4 1015.6 L358.6 1015.1 L360.8 1014.6 L363.0 1014.0 L365.1 1013.5 L367.2 1013.0 L369.3 1012.4 L371.3 1011.9 L373.2 1011.4 L375.0 1011.0 L376.7 1010.6 L378.4 1010.3 L379.9 1010.0 L381.4 1009.7 L382.8 1009.4 L384.2 1009.1 L385.6 1008.9 L386.9 1008.6 L388.3 1008.3 L389.7 1007.9 L391.1 1007.5 L392.5 1007.0 L394.0 1006.4 L395.5 1005.8 L397.0 1005.0 L398.5 1004.2 L400.0 1003.4 L401.6 1002.6 L403.1 1001.8 L404.5 1001.0 L406.0 1000.3 L407.4 999.7 L408.7 999.1 L410.0 998.8 L411.2 998.5 L412.4 998.4 L413.5 998.4 L414.6 998.5 L415.6 998.7 L416.6 998.9 L417.6 999.1 L418.6 999.3 L419.6 999.4 L420.5 999.5 L421.5 999.6 L422.5 999.5 L423.5 999.4 L424.4 999.2 L425.4 999.0 L426.3 998.9 L427.3 998.6 L428.2 998.4 L429.1 998.0 L430.0 997.7 L431.0 997.2 L431.9 996.7 L432.8 996.2 L433.8 995.5 L434.7 994.8 L435.6 994.0 L436.5 993.2 L437.4 992.3 L438.2 991.3 L439.1 990.3 L440.0 989.2 L441.0 988.1 L441.9 986.8 L442.9 985.5 L443.9 984.0 L445.0 982.5 L446.1 980.8 L447.4 978.8 L448.7 976.7 L450.0 974.4 L451.4 972.0 L452.7 969.6 L454.1 967.2 L455.4 964.9 L456.7 962.7 L457.9 960.7 L459.0 959.0 L460.0 957.5 L460.9 956.3 L461.6 955.3 L462.3 954.5 L462.9 953.8 L463.5 953.3 L464.0 952.8 L464.5 952.5 L465.0 952.2 L465.5 951.9 L466.1 951.5 L466.8 951.2 L467.5 950.8 L468.3 950.3 L469.2 950.0 L470.2 949.7 L471.2 949.5 L472.2 949.3 L473.2 949.1 L474.2 948.8 L475.2 948.5 L476.2 948.1 L477.1 947.7 L478.0 947.0 L478.8 946.2 L479.4 945.4 L480.0 944.4 L480.6 943.3 L481.1 942.2 L481.5 941.0 L482.0 939.7 L482.4 938.3 L482.8 936.9 L483.3 935.3 L483.8 933.6 L484.4 931.9 L485.0 930.0 L485.7 928.0 L486.4 925.7 L487.2 923.3 L488.1 920.8 L488.9 918.2 L489.8 915.5 L490.6 912.8 L491.5 910.1 L492.4 907.5 L493.3 904.9 L494.2 902.4 L495.0 900.0 L495.8 897.7 L496.7 895.4 L497.6 893.2 L498.5 890.9 L499.4 888.7 L500.3 886.6 L501.2 884.5 L502.0 882.4 L502.9 880.4 L503.6 878.5 L504.3 876.7 L505.0 875.0 L505.6 873.5 L506.1 872.4 L506.5 871.5 L506.8 870.7 L507.1 870.1 L507.4 869.4 L507.7 868.6 L508.1 867.6 L508.4 866.3 L508.9 864.7 L509.4 862.6 L510.0 860.0 L510.7 856.8 L511.5 853.0 L512.4 848.7 L513.4 844.1 L514.4 839.2 L515.4 834.1 L516.4 828.9 L517.5 823.7 L518.5 818.6 L519.4 813.8 L520.4 809.2 L521.2 805.0 L522.1 801.2 L522.9 797.5 L523.6 794.1 L524.4 790.7 L525.1 787.5 L525.8 784.4 L526.5 781.3 L527.2 778.1 L527.9 775.0 L528.6 771.8 L529.3 768.5 L530.0 765.0 L530.7 761.4 L531.5 757.7 L532.2 753.9 L533.0 750.0 L533.8 746.1 L534.5 742.2 L535.3 738.3 L536.0 734.4 L536.7 730.7 L537.4 727.0 L538.1 723.4 L538.8 720.0 L539.4 716.7 L540.0 713.5 L540.5 710.4 L541.1 707.4 L541.7 704.5 L542.2 701.6 L542.7 698.7 L543.2 695.9 L543.7 693.2 L544.1 690.4 L544.6 687.7 L545.0 685.0 L545.4 682.4 L545.8 679.9 L546.1 677.5 L546.4 675.2 L546.7 672.9 L547.0 670.6 L547.2 668.3 L547.5 665.9 L547.8 663.4 L548.1 660.8 L548.4 658.0 L548.8 655.0 L549.1 651.8 L549.5 648.4 L549.9 644.9 L550.3 641.3 L550.7 637.6 L551.2 633.8 L551.6 629.9 L552.0 625.9 L552.5 622.0 L552.9 618.0 L553.3 614.0 L553.8 610.0 L554.2 606.1 L554.6 602.2 L555.0 598.3 L555.4 594.4 L555.8 590.5 L556.2 586.6 L556.6 582.5 L557.0 578.3 L557.4 574.0 L557.8 569.5 L558.3 564.9 L558.8 560.0 L559.2 554.8 L559.7 549.2 L560.2 543.3 L560.7 537.2 L561.3 531.0 L561.8 524.7 L562.3 518.4 L562.9 512.2 L563.4 506.2 L563.9 500.5 L564.5 495.0 L565.0 490.0 L565.5 485.3 L566.1 480.9 L566.6 476.6 L567.1 472.6 L567.7 468.7 L568.2 465.0 L568.7 461.4 L569.3 458.0 L569.8 454.6 L570.3 451.3 L570.8 448.1 L571.2 445.0 L571.7 441.9 L572.2 439.0 L572.6 436.2 L573.1 433.5 L573.5 430.9 L573.9 428.4 L574.3 426.0 L574.7 423.7 L575.1 421.4 L575.5 419.2 L575.9 417.1 L576.2 415.0 L576.6 413.1 L576.9 411.5 L577.2 410.1 L577.5 408.9 L577.8 407.7 L578.1 406.6 L578.4 405.3 L578.7 403.9 L579.0 402.2 L579.3 400.2 L579.6 397.9 L580.0 395.0 L580.4 391.6 L580.8 387.8 L581.2 383.6 L581.6 379.1 L582.0 374.3 L582.5 369.4 L582.9 364.3 L583.3 359.3 L583.8 354.2 L584.2 349.3 L584.6 344.5 L585.0 340.0 L585.4 335.7 L585.8 331.4 L586.2 327.1 L586.5 323.0 L586.9 318.8 L587.3 314.7 L587.7 310.6 L588.0 306.5 L588.4 302.4 L588.8 298.3 L589.1 294.2 L589.5 290.0 L589.9 285.8 L590.2 281.7 L590.5 277.6 L590.9 273.5 L591.2 269.4 L591.5 265.3 L591.9 261.2 L592.2 257.0 L592.6 252.9 L592.9 248.6 L593.3 244.3 L593.8 240.0 L594.2 235.6 L594.7 231.1 L595.2 226.6 L595.7 222.0 L596.2 217.4 L596.8 212.8 L597.3 208.2 L597.8 203.5 L598.4 198.9 L598.9 194.2 L599.5 189.6 L600.0 185.0 L600.5 180.3 L601.1 175.5 L601.6 170.5 L602.2 165.5 L602.7 160.4 L603.3 155.5 L603.8 150.6 L604.4 145.9 L604.9 141.5 L605.4 137.3 L605.8 133.4 L606.2 130.0 L606.6 127.0 L607.0 124.6 L607.4 122.5 L607.7 120.8 L608.0 119.3 L608.2 117.9 L608.5 116.6 L608.8 115.2 L609.1 113.7 L609.4 112.0 L609.7 109.9 L610.0 107.5 L610.3 104.7 L610.7 101.5 L611.0 98.0 L611.4 94.4 L611.8 90.6 L612.1 86.8 L612.5 83.0 L612.9 79.2 L613.2 75.6 L613.6 72.2 L613.9 69.0 L614.2 66.2 L614.6 63.7 L614.9 61.3 L615.2 59.1 L615.5 57.0 L615.8 55.0 L616.1 53.1 L616.4 51.4 L616.7 49.9 L617.0 48.5 L617.3 47.2 L617.7 46.0 L618.0 45.0 L618.3 44.2 L618.7 43.5 L619.1 43.1 L619.4 42.8 L619.8 42.7 L620.2 42.7 L620.6 42.7 L620.9 42.9 L621.3 43.0 L621.7 43.2 L622.1 43.4 L622.5 43.5 L622.9 43.6 L623.3 43.7 L623.8 43.7 L624.2 43.8 L624.7 44.0 L625.1 44.2 L625.6 44.4 L626.0 44.8 L626.4 45.2 L626.8 45.8 L627.2 46.6 L627.5 47.5 L627.8 48.6 L628.1 50.0 L628.3 51.6 L628.5 53.3 L628.7 55.1 L628.9 57.0 L629.1 58.9 L629.3 60.8 L629.4 62.7 L629.6 64.4 L629.8 66.0 L630.0 67.5 L630.2 68.8 L630.4 69.9 L630.5 70.9 L630.7 71.9 L630.9 72.7 L631.0 73.6 L631.2 74.5 L631.4 75.4 L631.6 76.3 L631.9 77.4 L632.2 78.6 L632.5 80.0 L632.9 81.5 L633.4 83.1 L633.9 84.9 L634.4 86.7 L635.0 88.5 L635.5 90.5 L636.1 92.4 L636.7 94.4 L637.3 96.5 L637.8 98.5 L638.3 100.5 L638.8 102.5 L639.1 104.5 L639.5 106.6 L639.8 108.7 L640.1 110.9 L640.4 113.1 L640.7 115.2 L641.0 117.4 L641.2 119.5 L641.5 121.6 L641.8 123.7 L642.2 125.6 L642.5 127.5 L642.9 129.2 L643.3 130.8 L643.7 132.3 L644.1 133.7 L644.5 135.0 L644.9 136.3 L645.4 137.7 L645.8 139.1 L646.2 140.7 L646.7 142.3 L647.1 144.2 L647.5 146.2 L647.9 148.5 L648.3 150.9 L648.8 153.4 L649.2 156.0 L649.6 158.7 L650.0 161.5 L650.4 164.4 L650.8 167.4 L651.2 170.4 L651.7 173.6 L652.1 176.7 L652.5 180.0 L652.9 183.4 L653.4 187.0 L653.8 190.8 L654.2 194.7 L654.7 198.7 L655.1 202.7 L655.6 206.7 L656.0 210.7 L656.4 214.5 L656.8 218.2 L657.2 221.7 L657.5 225.0 L657.8 228.0 L658.1 230.8 L658.4 233.4 L658.7 235.9 L658.9 238.3 L659.2 240.6 L659.4 242.9 L659.6 245.2 L659.9 247.5 L660.1 249.9 L660.3 252.4 L660.5 255.0 L660.7 257.6 L660.9 260.1 L661.0 262.6 L661.1 265.0 L661.3 267.5 L661.4 270.0 L661.5 272.7 L661.6 275.6 L661.8 278.7 L662.0 282.1 L662.2 285.8 L662.5 290.0 L662.8 294.6 L663.2 299.6 L663.5 305.0 L663.9 310.7 L664.4 316.7 L664.8 322.8 L665.3 329.1 L665.7 335.4 L666.2 341.7 L666.6 347.9 L667.1 354.1 L667.5 360.0" stroke="#000" stroke-width="4.3" stroke-linecap="butt"/>
  <path d="M666.6 361 L668.6 360.6 L674.6 409.8 L670.4 410.2 Z" fill="#000" stroke="none"/>
  <path d="M672.5 410.0 L672.9 416.8 L673.3 423.7 L673.8 430.7 L674.2 437.8 L674.6 444.9 L675.0 451.9 L675.4 458.8 L675.8 465.6 L676.2 472.1 L676.7 478.4 L677.1 484.4 L677.5 490.0 L677.9 495.3 L678.4 500.4 L678.8 505.2 L679.3 509.8 L679.7 514.2 L680.2 518.4 L680.6 522.5 L681.1 526.3 L681.5 530.0 L681.8 533.5 L682.2 536.8 L682.5 540.0 L682.8 542.9 L683.0 545.4 L683.2 547.5 L683.3 549.4 L683.4 551.2 L683.5 552.8 L683.7 554.4 L683.8 556.1 L683.9 557.9 L684.1 560.0 L684.3 562.3 L684.5 565.0 L684.8 568.0 L685.1 571.3 L685.4 574.7 L685.7 578.3 L686.1 582.1 L686.4 585.9 L686.8 589.9 L687.2 593.9 L687.6 597.9 L688.0 602.0 L688.4 606.0 L688.8 610.0 L689.1 614.0 L689.5 618.0 L689.9 622.1 L690.3 626.3 L690.7 630.5 L691.1 634.7 L691.5 638.9 L692.0 643.1 L692.4 647.4 L692.8 651.6 L693.3 655.8 L693.8 660.0 L694.2 664.2 L694.7 668.3 L695.3 672.4 L695.8 676.5 L696.3 680.6 L696.9 684.7 L697.4 688.8 L698.0 693.0 L698.5 697.1 L699.0 701.4 L699.5 705.7 L700.0 710.0 L700.5 714.5 L700.9 719.1 L701.3 723.8 L701.8 728.6 L702.2 733.4 L702.6 738.2 L703.0 743.0 L703.4 747.7 L703.8 752.3 L704.2 756.8 L704.6 761.0 L705.0 765.0 L705.4 768.8 L705.8 772.3 L706.2 775.7 L706.6 778.9 L707.0 782.0 L707.4 785.0 L707.8 788.0 L708.3 790.9 L708.7 793.8 L709.1 796.8 L709.5 799.9 L710.0 803.0 L710.5 806.3 L711.0 809.7 L711.5 813.1 L712.0 816.6 L712.5 820.1 L713.1 823.6 L713.6 827.0 L714.1 830.4 L714.6 833.6 L715.1 836.6 L715.6 839.4 L716.0 842.0 L716.4 844.3 L716.8 846.5 L717.2 848.4 L717.6 850.1 L717.9 851.8 L718.3 853.3 L718.6 854.8 L718.9 856.2 L719.2 857.6 L719.5 859.0 L719.8 860.5 L720.0 862.0 L720.2 863.5 L720.3 864.9 L720.4 866.2 L720.4 867.5 L720.4 868.8 L720.5 870.1 L720.5 871.4 L720.6 872.8 L720.7 874.4 L720.9 876.0 L721.1 877.9 L721.5 880.0 L722.0 882.3 L722.5 884.8 L723.1 887.4 L723.8 890.2 L724.5 893.1 L725.2 896.1 L726.0 899.2 L726.8 902.3 L727.6 905.5 L728.4 908.7 L729.2 911.9 L730.0 915.0 L730.8 918.2 L731.6 921.6 L732.5 925.2 L733.3 928.8 L734.2 932.5 L735.1 936.1 L736.0 939.7 L736.8 943.2 L737.7 946.5 L738.5 949.6 L739.3 952.5 L740.0 955.0 L740.7 957.2 L741.3 959.2 L741.9 960.9 L742.5 962.5 L743.0 963.9 L743.6 965.1 L744.1 966.3 L744.6 967.4 L745.2 968.5 L745.8 969.6 L746.4 970.8 L747.0 972.0 L747.7 973.3 L748.4 974.6 L749.2 975.9 L749.9 977.1 L750.7 978.4 L751.5 979.6 L752.3 980.8 L753.1 982.0 L753.8 983.1 L754.6 984.1 L755.3 985.1 L756.0 986.0 L756.7 986.8 L757.3 987.6 L757.9 988.4 L758.5 989.1 L759.1 989.7 L759.6 990.3 L760.2 990.8 L760.7 991.3 L761.3 991.8 L761.9 992.2 L762.4 992.6 L763.0 993.0 L763.6 993.3 L764.1 993.6 L764.7 993.8 L765.2 993.9 L765.8 994.1 L766.3 994.2 L766.9 994.2 L767.4 994.3 L768.0 994.3 L768.7 994.4 L769.3 994.4 L770.0 994.5 L770.7 994.6 L771.5 994.6 L772.3 994.6 L773.2 994.6 L774.1 994.6 L774.9 994.5 L775.8 994.5 L776.7 994.5 L777.6 994.6 L778.4 994.7 L779.2 994.8 L780.0 995.0 L780.7 995.3 L781.5 995.6 L782.2 995.9 L782.9 996.3 L783.5 996.7 L784.2 997.1 L784.8 997.6 L785.5 998.1 L786.1 998.6 L786.7 999.0 L787.4 999.5 L788.0 1000.0 L788.6 1000.5 L789.1 1000.9 L789.6 1001.4 L790.1 1001.9 L790.6 1002.4 L791.1 1002.9 L791.6 1003.4 L792.1 1003.9 L792.7 1004.5 L793.4 1005.0 L794.1 1005.6 L795.0 1006.2 L796.0 1006.9 L797.1 1007.6 L798.2 1008.3 L799.5 1009.1 L800.8 1009.8 L802.2 1010.6 L803.5 1011.4 L804.9 1012.2 L806.2 1012.9 L807.6 1013.7 L808.8 1014.4 L810.0 1015.0 L811.1 1015.6 L812.2 1016.3 L813.2 1016.9 L814.2 1017.6 L815.1 1018.2 L816.1 1018.8 L817.1 1019.3 L818.1 1019.9 L819.1 1020.3 L820.2 1020.7 L821.3 1021.0 L822.5 1021.2 L823.8 1021.4 L825.1 1021.4 L826.5 1021.3 L828.0 1021.2 L829.4 1021.0 L830.9 1020.7 L832.5 1020.5 L834.0 1020.2 L835.5 1020.0 L837.0 1019.8 L838.5 1019.6 L840.0 1019.5 L841.5 1019.5 L842.9 1019.6 L844.4 1019.7 L845.9 1019.8 L847.4 1020.0 L848.9 1020.1 L850.4 1020.3 L851.9 1020.4 L853.3 1020.4 L854.7 1020.4 L856.1 1020.2 L857.5 1020.0 L858.9 1019.6 L860.2 1019.0 L861.6 1018.4 L863.0 1017.6 L864.4 1016.7 L865.7 1015.9 L867.0 1015.0 L868.2 1014.2 L869.4 1013.5 L870.5 1012.8 L871.6 1012.3 L872.5 1012.0 L873.3 1011.8 L874.1 1011.8 L874.7 1011.8 L875.3 1011.9 L875.8 1012.1 L876.3 1012.4 L876.8 1012.7 L877.2 1013.1 L877.6 1013.4 L878.0 1013.8 L878.5 1014.2 L879.0 1014.5 L879.5 1014.9 L880.0 1015.2 L880.5 1015.7 L881.0 1016.1 L881.4 1016.6 L881.9 1017.1 L882.4 1017.6 L882.9 1018.1 L883.4 1018.6 L883.9 1019.0 L884.4 1019.5 L885.0 1020.0 L885.6 1020.5 L886.2 1020.9 L886.8 1021.4 L887.5 1021.9 L888.2 1022.4 L888.8 1022.9 L889.5 1023.4 L890.2 1023.9 L890.9 1024.3 L891.6 1024.7 L892.3 1025.1 L893.0 1025.5 L893.7 1025.8 L894.4 1026.1 L895.1 1026.4 L895.8 1026.6 L896.5 1026.9 L897.2 1027.1 L897.9 1027.3 L898.6 1027.5 L899.4 1027.7 L900.1 1027.9 L900.8 1028.1 L901.5 1028.3" stroke="#000" stroke-width="4.3"/>
</g>
<!-- plot box -->
<rect x="126.3" y="3.9" width="1066.9" height="1065.8" fill="none" stroke="#000" stroke-width="2"/>
<!-- ticks -->
<g stroke="#000" stroke-width="2" fill="none">
  <line x1="91" y1="43.5" x2="126.3" y2="43.5"/>
  <line x1="91" y1="240.9" x2="126.3" y2="240.9"/>
  <line x1="91" y1="438.3" x2="126.3" y2="438.3"/>
  <line x1="91" y1="635.8" x2="126.3" y2="635.8"/>
  <line x1="91" y1="833.2" x2="126.3" y2="833.2"/>
  <line x1="91" y1="1030.6" x2="126.3" y2="1030.6"/>
  <line x1="165.5" y1="1069.7" x2="165.5" y2="1105"/>
  <line x1="494.6" y1="1069.7" x2="494.6" y2="1105"/>
  <line x1="823.7" y1="1069.7" x2="823.7" y2="1105"/>
  <line x1="1152.8" y1="1069.7" x2="1152.8" y2="1105"/>
</g>
<!-- tick labels -->
<g font-size="57.6" text-anchor="middle">
  <text x="165.5" y="1194">0.30</text>
  <text x="494.6" y="1194">0.35</text>
  <text x="823.7" y="1194">0.40</text>
  <text x="1152.8" y="1194">0.45</text>
  <text transform="translate(43.5 43.5) rotate(-90)">1.0</text>
  <text transform="translate(43.5 240.9) rotate(-90)">0.8</text>
  <text transform="translate(43.5 438.3) rotate(-90)">0.6</text>
  <text transform="translate(43.5 635.8) rotate(-90)">0.4</text>
  <text transform="translate(43.5 833.2) rotate(-90)">0.2</text>
  <text transform="translate(43.5 1030.6) rotate(-90)">0.0</text>
  <text x="658.8" y="1331.5" font-size="62">r/R</text>
</g>
<!-- legend -->
<rect x="166" y="43.5" width="321" height="247.3" fill="#faebd7" stroke="#000" stroke-width="2"/>
<g fill="none" stroke-linecap="round">
  <line x1="180.4" y1="105" x2="271.9" y2="105" stroke="#fb8429" stroke-width="4.2"/>
  <circle cx="225.8" cy="105" r="11.3" fill="#fb8429" stroke="none"/>
  <line x1="180.4" y1="166.6" x2="271.9" y2="166.6" stroke="#ff0000" stroke-width="4.3" stroke-dasharray="12.9 21.5"/>
  <line x1="180.4" y1="229.2" x2="271.9" y2="229.2" stroke="#000" stroke-width="4.2"/>
</g>
<g font-size="52.5">
  <text x="318.8" y="121.5">Pe</text>
  <text x="318.8" y="179.7">P(r<tspan font-size="36.5" dy="7.5">o</tspan><tspan dy="-7.5">)</tspan></text>
  <text x="318.8" y="241.5">P(r<tspan font-size="36.5" dy="7.5">max</tspan><tspan dy="-7.5">)</tspan></text>
</g>
</svg>
</body>
</html>
